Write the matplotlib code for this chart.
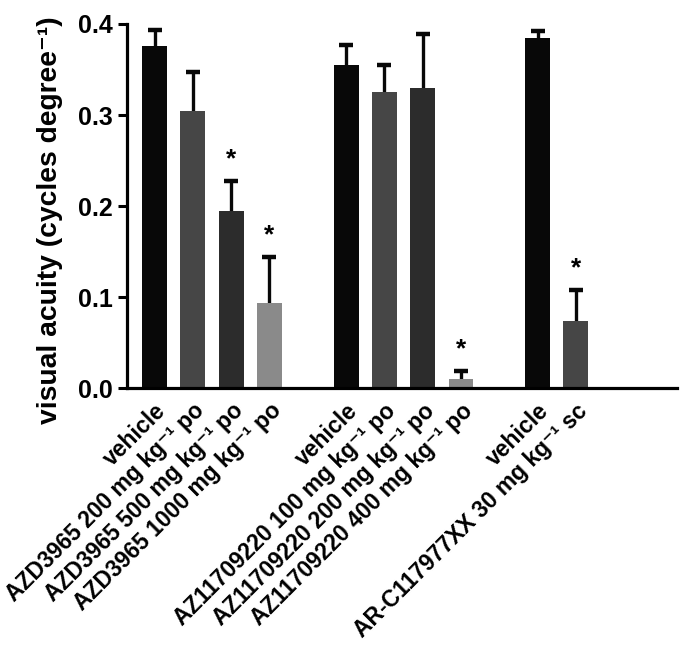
import matplotlib
matplotlib.use("Agg")
import matplotlib.pyplot as plt
import matplotlib.transforms as mtrans
import numpy as np

plt.rcParams['font.family'] = ['Liberation Sans', 'DejaVu Sans']
plt.rcParams['font.weight'] = 'bold'

SUP = '\u207b\u00b9'
categories = [
    'vehicle',
    'AZD3965 200 mg kg' + SUP + ' po',
    'AZD3965 500 mg kg' + SUP + ' po',
    'AZD3965 1000 mg kg' + SUP + ' po',
    'vehicle',
    'AZ11709220 100 mg kg' + SUP + ' po',
    'AZ11709220 200 mg kg' + SUP + ' po',
    'AZ11709220 400 mg kg' + SUP + ' po',
    'vehicle',
    'AR-C117977XX 30 mg kg' + SUP + ' sc',
]
positions = [0, 1, 2, 3, 5, 6, 7, 8, 10, 11]
values = [0.376, 0.304, 0.195, 0.093, 0.355, 0.325, 0.330, 0.010, 0.385, 0.074]
errors = [0.017, 0.043, 0.032, 0.051, 0.022, 0.030, 0.059, 0.009, 0.007, 0.034]
significant = [False, False, True, True, False, False, False, True, False, True]
colors = ['#080808', '#464646', '#2c2c2c', '#8a8a8a',
          '#080808', '#464646', '#2c2c2c', '#8a8a8a',
          '#080808', '#464646']

fig = plt.figure(figsize=(6.8, 6.45), dpi=100)
ax = fig.add_axes([0.1868, 0.3984, 0.8088, 0.5644])

x = np.array(positions, dtype=float)
v = np.array(values)
e = np.array(errors)

ax.vlines(x, v, v + e, colors='#080808', linewidth=2.4, zorder=1)
ax.plot(x, v + e, ls='none', marker='_', markersize=10, mew=3.2, color='#080808', zorder=1)
ax.bar(x, v, width=0.65, color=colors, zorder=2)

for xi, top, s in zip(x, v + e, significant):
    if s:
        ax.annotate('*', (xi, top), xytext=(0, 7), textcoords='offset points',
                    ha='center', va='bottom', fontsize=19, fontweight='bold')

ax.set_xlim(-0.72, 13.64)
ax.set_ylim(0, 0.4)
ax.set_yticks([0.0, 0.1, 0.2, 0.3, 0.4])
ax.set_yticklabels(['0.0', '0.1', '0.2', '0.3', '0.4'], fontsize=18, fontweight='bold')
ax.set_xticks(x)
ax.set_xticklabels(categories, rotation=45, ha='right', va='top',
                   rotation_mode='anchor', fontsize=16.5, fontweight='bold')
offset = mtrans.ScaledTranslation(-0.05, -0.07, fig.dpi_scale_trans)
for lab in ax.get_xticklabels():
    lab.set_transform(lab.get_transform() + offset)
ax.tick_params(axis='x', length=0, pad=8)
ax.tick_params(axis='y', length=6.5, width=2.2, pad=4)
for sp in ['top', 'right']:
    ax.spines[sp].set_visible(False)
for sp in ['left', 'bottom']:
    ax.spines[sp].set_linewidth(2.3)

ax.set_ylabel('visual acuity (cycles degree' + SUP + ')', fontsize=20.3,
              fontweight='bold')
ax.yaxis.set_label_coords(-0.117, 0.46)

fig.savefig('out.png', dpi=100)
